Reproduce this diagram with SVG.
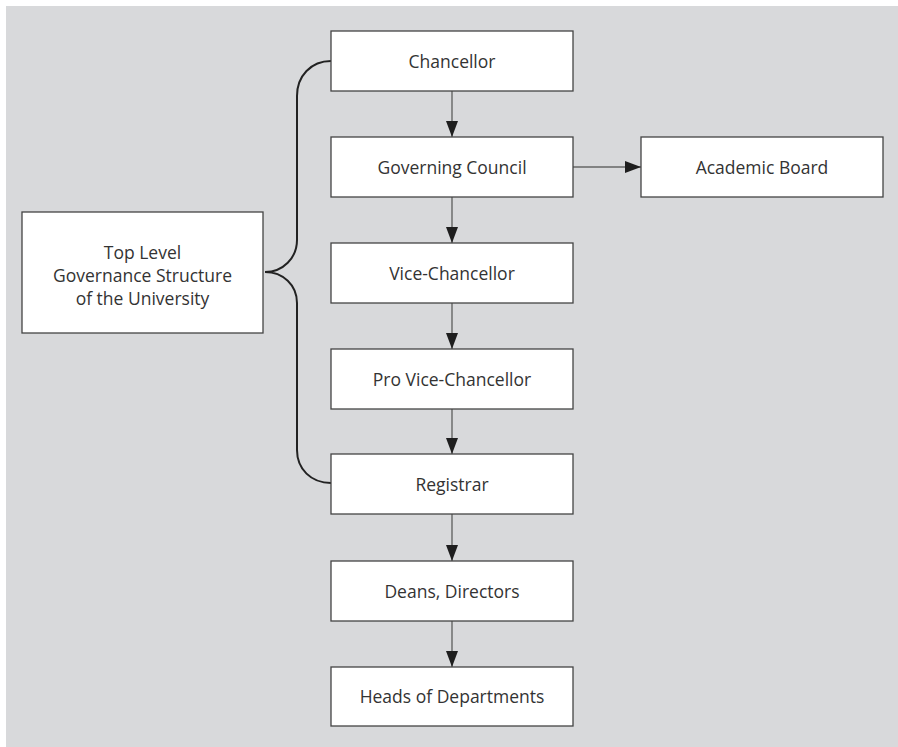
<svg xmlns="http://www.w3.org/2000/svg" width="898" height="747" viewBox="0 0 898 747">
  <style>
    .box { fill: #ffffff; stroke: #444444; stroke-width: 1.3; }
    .label { font-family: "Open Sans", "Noto Sans", sans-serif; font-size: 17.5px; fill: #333333; text-anchor: middle; }
    .flow { stroke: #666666; stroke-width: 1.4; fill: none; }
    .brace { stroke: #222222; stroke-width: 2; fill: none; }
  </style>
  <defs>
    <marker id="arrow" viewBox="0 0 16 12" refX="16" refY="6" markerWidth="16" markerHeight="12" markerUnits="userSpaceOnUse" orient="auto">
      <path d="M0,0 L16,6 L0,12 Z" fill="#1e1e1e"/>
    </marker>
  </defs>

  <!-- panel background -->
  <rect x="6" y="6" width="892" height="741" fill="#d8d9db"/>

  <!-- connectors -->
  <g id="connectors">
    <line class="flow" x1="452" y1="91" x2="452" y2="137" marker-end="url(#arrow)"/>
    <line class="flow" x1="573" y1="167" x2="641" y2="167" marker-end="url(#arrow)"/>
    <line class="flow" x1="452" y1="197" x2="452" y2="243" marker-end="url(#arrow)"/>
    <line class="flow" x1="452" y1="303" x2="452" y2="349" marker-end="url(#arrow)"/>
    <line class="flow" x1="452" y1="409" x2="452" y2="454" marker-end="url(#arrow)"/>
    <line class="flow" x1="452" y1="514" x2="452" y2="561" marker-end="url(#arrow)"/>
    <line class="flow" x1="452" y1="621" x2="452" y2="667" marker-end="url(#arrow)"/>
    <!-- curly brace grouping Chancellor .. Registrar -->
    <path class="brace" d="M331,61 C311,61 297,76 297,96 L297,240 C297,258 283,272 265,272 C283,272 297,285 297,303 L297,450 C297,469 311,483 331,483"/>
  </g>

  <g id="top-level">
    <rect class="box" x="22" y="212" width="241" height="121"/>
    <text class="label" x="142.5" y="259">Top Level</text>
    <text class="label" x="142.5" y="282">Governance Structure</text>
    <text class="label" x="142.5" y="305">of the University</text>
  </g>

  <g id="chancellor">
    <rect class="box" x="331" y="31" width="242" height="60"/>
    <text class="label" x="452" y="68">Chancellor</text>
  </g>

  <g id="governing-council">
    <rect class="box" x="331" y="137" width="242" height="60"/>
    <text class="label" x="452" y="174">Governing Council</text>
  </g>

  <g id="academic-board">
    <rect class="box" x="641" y="137" width="242" height="60"/>
    <text class="label" x="762" y="174">Academic Board</text>
  </g>

  <g id="vice-chancellor">
    <rect class="box" x="331" y="243" width="242" height="60"/>
    <text class="label" x="452" y="280">Vice-Chancellor</text>
  </g>

  <g id="pro-vice-chancellor">
    <rect class="box" x="331" y="349" width="242" height="60"/>
    <text class="label" x="452" y="386">Pro Vice-Chancellor</text>
  </g>

  <g id="registrar">
    <rect class="box" x="331" y="454" width="242" height="60"/>
    <text class="label" x="452" y="491">Registrar</text>
  </g>

  <g id="deans-directors">
    <rect class="box" x="331" y="561" width="242" height="60"/>
    <text class="label" x="452" y="598">Deans, Directors</text>
  </g>

  <g id="heads-of-departments">
    <rect class="box" x="331" y="667" width="242" height="59"/>
    <text class="label" x="452" y="703">Heads of Departments</text>
  </g>
</svg>
